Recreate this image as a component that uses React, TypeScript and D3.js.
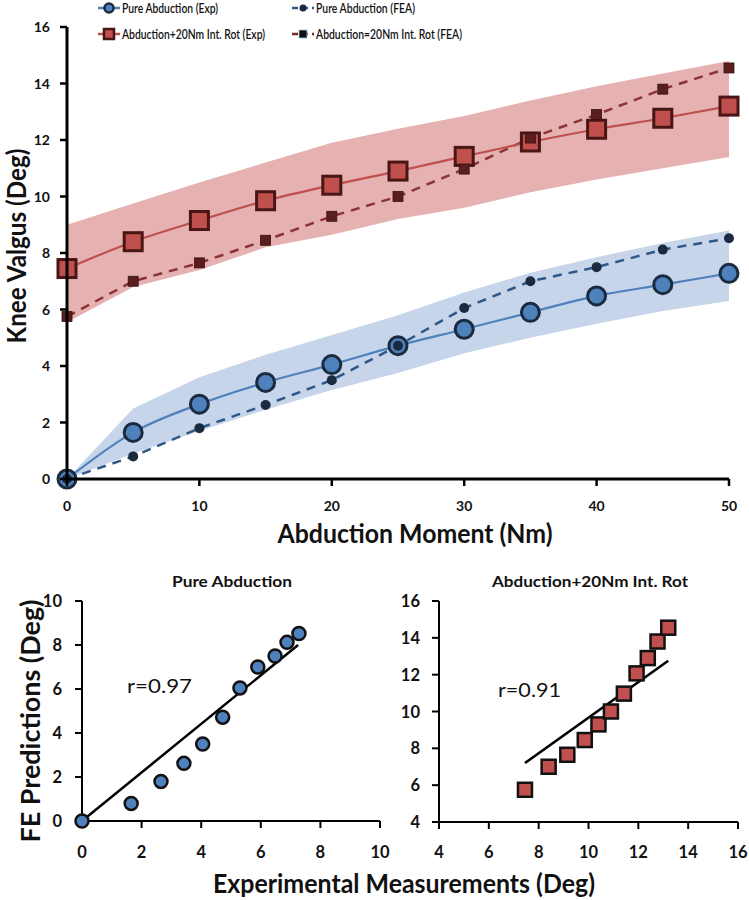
import React from "react";
import * as d3 from "d3";

// abduction moment (Nm)
const moment = [0, 5, 10, 15, 20, 25, 30, 35, 40, 45, 50];

// knee valgus (deg)
const pureExp = [0, 1.65, 2.65, 3.42, 4.05, 4.72, 5.3, 5.9, 6.48, 6.88, 7.28];
const pureFea = [0, 0.8, 1.8, 2.62, 3.5, 4.72, 6.05, 7.0, 7.5, 8.12, 8.52];
const pureUpper = [0, 2.5, 3.6, 4.4, 5.1, 5.8, 6.6, 7.3, 7.85, 8.35, 8.8];
const pureLower = [0, 0.9, 1.7, 2.45, 3.15, 3.75, 4.45, 5.0, 5.5, 5.95, 6.3];

const rotExp = [7.45, 8.4, 9.15, 9.85, 10.4, 10.9, 11.42, 11.93, 12.38, 12.77, 13.2];
const rotFea = [5.75, 7.0, 7.65, 8.45, 9.3, 10.0, 10.97, 12.07, 12.9, 13.8, 14.55];
const rotUpper = [9.0, 9.75, 10.5, 11.2, 11.9, 12.4, 12.85, 13.4, 13.9, 14.35, 14.8];
const rotLower = [5.55, 6.8, 7.4, 8.2, 8.65, 9.2, 9.6, 10.15, 10.6, 11.0, 11.4];

// regression lines in the scatter panels [x, y]
const pureFit = [[0, 0], [7.25, 8.0]];
const rotFit = [[7.45, 7.2], [13.2, 12.75]];

const topXTicks = [0, 10, 20, 30, 40, 50];
const topYTicks = [0, 2, 4, 6, 8, 10, 12, 14, 16];
const pureTicks = [0, 2, 4, 6, 8, 10];
const rotTicks = [4, 6, 8, 10, 12, 14, 16];

const FONT = "Lato, 'Open Sans', sans-serif";
const BLUE = "#4f81bd";
const BLUE_DARK = "#1b2b3f";
const RED = "#c0504d";
const RED_DARK = "#4a1515";

export default function App() {
  // top panel
  const x = d3.scaleLinear().domain([0, 50]).range([67, 729]);
  const y = d3.scaleLinear().domain([0, 16]).range([479, 27]);

  const band = (up: number[], lo: number[]) =>
    d3
      .area<number>()
      .x((d, i) => x(moment[i]))
      .y0((d, i) => y(lo[i]))
      .y1((d) => y(d))(up) as string;

  const smooth = d3
    .line<number>()
    .x((d, i) => x(moment[i]))
    .y((d) => y(d))
    .curve(d3.curveMonotoneX);
  const straight = d3
    .line<number>()
    .x((d, i) => x(moment[i]))
    .y((d) => y(d));

  // bottom panels
  const px = d3.scaleLinear().domain([0, 10]).range([82, 380]);
  const py = d3.scaleLinear().domain([0, 10]).range([821, 601]);
  const rx = d3.scaleLinear().domain([4, 16]).range([439, 738]);
  const ry = d3.scaleLinear().domain([4, 16]).range([822, 601]);

  const legend = [
    { lx: 98, ly: 8, w: 96, label: "Pure Abduction (Exp)", kind: "circleBig", color: BLUE, dash: "" },
    { lx: 292, ly: 8, w: 99, label: "Pure Abduction (FEA)", kind: "circleSmall", color: "#2f5788", dash: "6,4" },
    { lx: 98, ly: 34, w: 143, label: "Abduction+20Nm Int. Rot (Exp)", kind: "squareBig", color: RED, dash: "" },
    { lx: 292, ly: 34, w: 146, label: "Abduction=20Nm Int. Rot (FEA)", kind: "squareSmall", color: "#7a2a2a", dash: "6,4" },
  ];

  const tickStyle = { fontFamily: FONT, fontWeight: 700, fontSize: 14, fill: "#111" } as const;
  const smallTick = { ...tickStyle, fontSize: 16.5 };
  const bigTitle = { fontFamily: FONT, fontWeight: 700, fontSize: 26, fill: "#111" } as const;

  return (
    <svg width={749} height={900} style={{ position: "absolute", left: 0, top: 0, background: "#fff" }}>
      {/* legend */}
      {legend.map((l) => (
        <g key={l.label}>
          <line x1={l.lx} x2={l.lx + 22} y1={l.ly} y2={l.ly} stroke={l.color} strokeWidth={2.5} strokeDasharray={l.dash} />
          {l.kind === "circleBig" && <circle cx={l.lx + 11} cy={l.ly} r={4.5} fill={BLUE} stroke={BLUE_DARK} strokeWidth={2.5} />}
          {l.kind === "circleSmall" && <circle cx={l.lx + 11} cy={l.ly} r={3.5} fill={BLUE_DARK} />}
          {l.kind === "squareBig" && <rect x={l.lx + 6} y={l.ly - 5} width={10} height={10} fill={RED} stroke={RED_DARK} strokeWidth={2.5} />}
          {l.kind === "squareSmall" && <rect x={l.lx + 7} y={l.ly - 4} width={8} height={8} fill="#111" stroke="#9fc6d6" strokeWidth={0.8} />}
          <text x={l.lx + 24} y={l.ly + 5} textLength={l.w} lengthAdjust="spacingAndGlyphs" style={{ fontFamily: FONT, fontWeight: 600, fontSize: 14, fill: "#111" }}>
            {l.label}
          </text>
        </g>
      ))}

      {/* bands */}
      <path d={band(rotUpper, rotLower)} fill="#e6b1b1" />
      <path d={band(pureUpper, pureLower)} fill="#c6d5e9" />

      {/* lines */}
      <path d={straight(rotFea) as string} fill="none" stroke="#8a3434" strokeWidth={2.5} strokeDasharray="9,7" />
      <path d={smooth(rotExp) as string} fill="none" stroke={RED} strokeWidth={2.2} />
      <path d={straight(pureFea) as string} fill="none" stroke="#2f5788" strokeWidth={2.5} strokeDasharray="9,7" />
      <path d={smooth(pureExp) as string} fill="none" stroke={BLUE} strokeWidth={2.2} />

      {/* markers */}
      {rotExp.map((v, i) => (
        <rect key={"re" + i} x={x(moment[i]) - 9} y={y(v) - 9} width={18} height={18} fill={RED} stroke={RED_DARK} strokeWidth={3} />
      ))}
      {rotFea.map((v, i) => (
        <rect key={"rf" + i} x={x(moment[i]) - 5} y={y(v) - 5} width={10} height={10} fill="#5a1e1e" stroke="#3a1010" strokeWidth={0.8} />
      ))}
      {pureExp.map((v, i) => (
        <circle key={"pe" + i} cx={x(moment[i])} cy={y(v)} r={9} fill={BLUE} stroke={BLUE_DARK} strokeWidth={3} />
      ))}
      {pureFea.map((v, i) => (
        <circle key={"pf" + i} cx={x(moment[i])} cy={y(v)} r={5} fill={BLUE_DARK} />
      ))}

      {/* top axes */}
      <line x1={x(0)} x2={x(0)} y1={y(16)} y2={y(0)} stroke="#000" strokeWidth={3} />
      <line x1={x(0)} x2={x(50)} y1={y(0)} y2={y(0)} stroke="#000" strokeWidth={3} />
      {topYTicks.map((t) => (
        <g key={"ty" + t}>
          <line x1={x(0) - 7} x2={x(0)} y1={y(t)} y2={y(t)} stroke="#000" strokeWidth={2.5} />
          <text x={50} y={y(t) + 5} textAnchor="end" style={tickStyle}>{t}</text>
        </g>
      ))}
      {topXTicks.map((t) => (
        <g key={"tx" + t}>
          <line x1={x(t)} x2={x(t)} y1={y(0)} y2={y(0) + 7} stroke="#000" strokeWidth={2.5} />
          <text x={x(t)} y={511} textAnchor="middle" style={tickStyle}>{t}</text>
        </g>
      ))}
      <text x={415} y={543} textAnchor="middle" textLength={275} lengthAdjust="spacingAndGlyphs" style={bigTitle}>
        Abduction Moment (Nm)
      </text>
      <text transform="translate(26,246) rotate(-90)" textAnchor="middle" textLength={195} lengthAdjust="spacingAndGlyphs" style={bigTitle}>
        Knee Valgus (Deg)
      </text>

      {/* bottom-left: pure abduction */}
      <text x={232} y={587} textAnchor="middle" textLength={120} lengthAdjust="spacingAndGlyphs" style={{ fontFamily: FONT, fontWeight: 700, fontSize: 15, fill: "#111" }}>
        Pure Abduction
      </text>
      <line x1={px(0)} x2={px(0)} y1={py(10)} y2={py(0)} stroke="#000" strokeWidth={2} />
      <line x1={px(0)} x2={px(10)} y1={py(0)} y2={py(0)} stroke="#000" strokeWidth={2} />
      {pureTicks.map((t) => (
        <g key={"pt" + t}>
          <line x1={px(0) - 7} x2={px(0)} y1={py(t)} y2={py(t)} stroke="#000" strokeWidth={2} />
          <text x={62} y={py(t) + 6} textAnchor="end" style={smallTick}>{t}</text>
          <line x1={px(t)} x2={px(t)} y1={py(0)} y2={py(0) + 7} stroke="#000" strokeWidth={2} />
          <text x={px(t)} y={858} textAnchor="middle" style={smallTick}>{t}</text>
        </g>
      ))}
      <line x1={px(pureFit[0][0])} y1={py(pureFit[0][1])} x2={px(pureFit[1][0])} y2={py(pureFit[1][1])} stroke="#000" strokeWidth={2.5} />
      {pureExp.map((v, i) => (
        <circle key={"ps" + i} cx={px(v)} cy={py(pureFea[i])} r={6.5} fill={BLUE} stroke="#111" strokeWidth={2.5} />
      ))}
      <text x={127} y={693} textLength={65} lengthAdjust="spacingAndGlyphs" style={{ fontFamily: FONT, fontSize: 20, fill: "#111" }}>r=0.97</text>

      {/* bottom-right: abduction + rotation */}
      <text x={590} y={587} textAnchor="middle" textLength={196} lengthAdjust="spacingAndGlyphs" style={{ fontFamily: FONT, fontWeight: 700, fontSize: 15, fill: "#111" }}>
        Abduction+20Nm Int. Rot
      </text>
      <line x1={rx(4)} x2={rx(4)} y1={ry(16)} y2={ry(4)} stroke="#000" strokeWidth={2} />
      <line x1={rx(4)} x2={rx(16)} y1={ry(4)} y2={ry(4)} stroke="#000" strokeWidth={2} />
      {rotTicks.map((t) => (
        <g key={"rt" + t}>
          <line x1={rx(4) - 7} x2={rx(4)} y1={ry(t)} y2={ry(t)} stroke="#000" strokeWidth={2} />
          <text x={420} y={ry(t) + 6} textAnchor="end" style={smallTick}>{t}</text>
          <line x1={rx(t)} x2={rx(t)} y1={ry(4)} y2={ry(4) + 7} stroke="#000" strokeWidth={2} />
          <text x={rx(t)} y={858} textAnchor="middle" style={smallTick}>{t}</text>
        </g>
      ))}
      <line x1={rx(rotFit[0][0])} y1={ry(rotFit[0][1])} x2={rx(rotFit[1][0])} y2={ry(rotFit[1][1])} stroke="#000" strokeWidth={2.5} />
      {rotExp.map((v, i) => (
        <rect key={"rs" + i} x={rx(v) - 7} y={ry(rotFea[i]) - 7} width={14} height={14} fill={RED} stroke="#111" strokeWidth={2.5} />
      ))}
      <text x={498} y={697} textLength={63} lengthAdjust="spacingAndGlyphs" style={{ fontFamily: FONT, fontSize: 20, fill: "#111" }}>r=0.91</text>

      <text transform="translate(40,721) rotate(-90)" textAnchor="middle" textLength={243} lengthAdjust="spacingAndGlyphs" style={bigTitle}>
        FE Predictions (Deg)
      </text>
      <text x={404} y={893} textAnchor="middle" textLength={382} lengthAdjust="spacingAndGlyphs" style={{ ...bigTitle, fontSize: 27 }}>
        Experimental Measurements (Deg)
      </text>
    </svg>
  );
}
